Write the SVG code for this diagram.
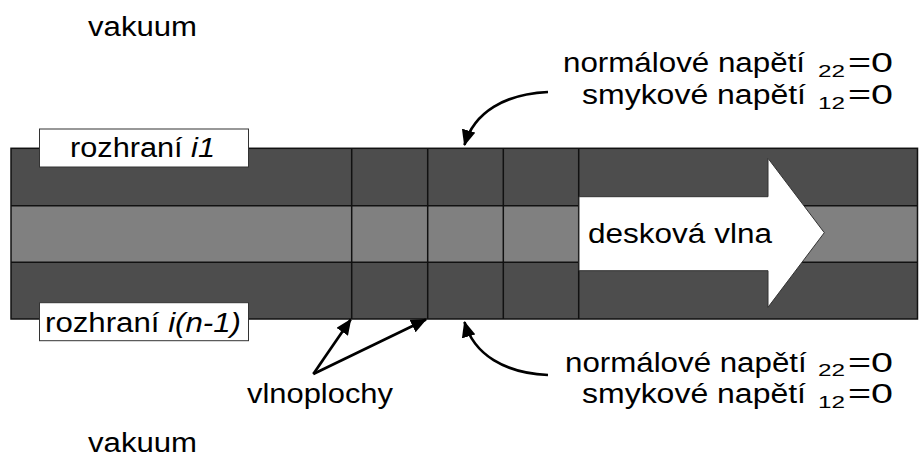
<svg xmlns="http://www.w3.org/2000/svg" width="919" height="457" viewBox="0 0 919 457">
  <style>
    .t { font-family: "Liberation Sans", Arial, sans-serif; font-size: 27px; fill: #000; }
    .sub { font-family: "Liberation Sans", Arial, sans-serif; font-size: 16px; fill: #000; }
    .dark { fill: #4d4d4d; }
    .light { fill: #808080; }
    .edge { stroke: #111; stroke-width: 1.5; fill: none; }
    .label { fill: #fff; stroke: #333; stroke-width: 1; }
    .conn { stroke: #000; stroke-width: 2.7; fill: none; marker-end: url(#head); }
  </style>
  <defs>
    <marker id="head" markerUnits="userSpaceOnUse" markerWidth="16" markerHeight="14" viewBox="0 0 16 14" refX="15" refY="7" orient="auto">
      <path d="M0,0 L16,7 L0,14 z" fill="#000"/>
    </marker>
  </defs>
  <rect width="919" height="457" fill="#fff"/>

  <g id="plate">
    <rect class="dark" x="11" y="148.3" width="906.5" height="57.4"/>
    <rect class="light" x="11" y="205.7" width="906.5" height="56.6"/>
    <rect class="dark" x="11" y="262.3" width="906.5" height="56.7"/>
    <line class="edge" x1="11" y1="205.7" x2="917.5" y2="205.7"/>
    <line class="edge" x1="11" y1="262.3" x2="917.5" y2="262.3"/>
    <line class="edge" x1="351.7" y1="148.3" x2="351.7" y2="319"/>
    <line class="edge" x1="427.7" y1="148.3" x2="427.7" y2="319"/>
    <line class="edge" x1="503.3" y1="148.3" x2="503.3" y2="319"/>
    <line class="edge" x1="578.7" y1="148.3" x2="578.7" y2="319"/>
    <rect class="edge" x="11" y="148.3" width="906.5" height="170.7"/>
  </g>

  <g id="wave-arrow">
    <polygon points="579,196.7 768,196.7 768,158.3 824.3,232.7 768,307.3 768,270.7 579,270.7" fill="#fff" stroke="#333" stroke-width="1"/>
    <text class="t" x="588" y="243" textLength="184" lengthAdjust="spacingAndGlyphs">desková vlna</text>
  </g>

  <g id="interface-top">
    <rect class="label" x="39.5" y="129" width="209" height="38"/>
    <text class="t" x="70" y="156.7" textLength="145" lengthAdjust="spacingAndGlyphs">rozhraní <tspan font-style="italic">i1</tspan></text>
  </g>

  <g id="interface-bottom">
    <rect class="label" x="39.5" y="302.7" width="209" height="38"/>
    <text class="t" x="45" y="331.7" textLength="196" lengthAdjust="spacingAndGlyphs">rozhraní <tspan font-style="italic">i(n-1)</tspan></text>
  </g>

  <g id="vacuum-top">
    <text class="t" x="88" y="36" textLength="109" lengthAdjust="spacingAndGlyphs">vakuum</text>
  </g>
  <g id="vacuum-bottom">
    <text class="t" x="88" y="451.7" textLength="109" lengthAdjust="spacingAndGlyphs">vakuum</text>
  </g>

  <g id="wavefronts-label">
    <text class="t" x="247" y="403.3" textLength="146" lengthAdjust="spacingAndGlyphs">vlnoplochy</text>
  </g>

  <g id="stress-top">
    <text class="t" x="563" y="72" textLength="242" lengthAdjust="spacingAndGlyphs">normálové napětí</text>
    <text class="sub" x="818" y="76.7" textLength="27" lengthAdjust="spacingAndGlyphs">22</text>
    <text class="t" x="848" y="72" textLength="45" lengthAdjust="spacingAndGlyphs">=0</text>
    <text class="t" x="582" y="104.3" textLength="224" lengthAdjust="spacingAndGlyphs">smykové napětí</text>
    <text class="sub" x="818" y="108.5" textLength="27" lengthAdjust="spacingAndGlyphs">12</text>
    <text class="t" x="848" y="104.3" textLength="45" lengthAdjust="spacingAndGlyphs">=0</text>
  </g>

  <g id="stress-bottom">
    <text class="t" x="565" y="371.7" textLength="241.7" lengthAdjust="spacingAndGlyphs">normálové napětí</text>
    <text class="sub" x="818" y="376.3" textLength="27" lengthAdjust="spacingAndGlyphs">22</text>
    <text class="t" x="848" y="371.7" textLength="45" lengthAdjust="spacingAndGlyphs">=0</text>
    <text class="t" x="582" y="403.3" textLength="224" lengthAdjust="spacingAndGlyphs">smykové napětí</text>
    <text class="sub" x="818" y="408" textLength="27" lengthAdjust="spacingAndGlyphs">12</text>
    <text class="t" x="848" y="403.3" textLength="45" lengthAdjust="spacingAndGlyphs">=0</text>
  </g>

  <g id="connectors">
    <path class="conn" d="M548,92 C505,94 474,112 464.5,145"/>
    <path class="conn" d="M548,375 C505,373 474,355 464.5,322"/>
    <path class="conn" d="M313.3,374 L350.7,319.5"/>
    <path class="conn" d="M313.3,374 L426,319.5"/>
  </g>
</svg>
